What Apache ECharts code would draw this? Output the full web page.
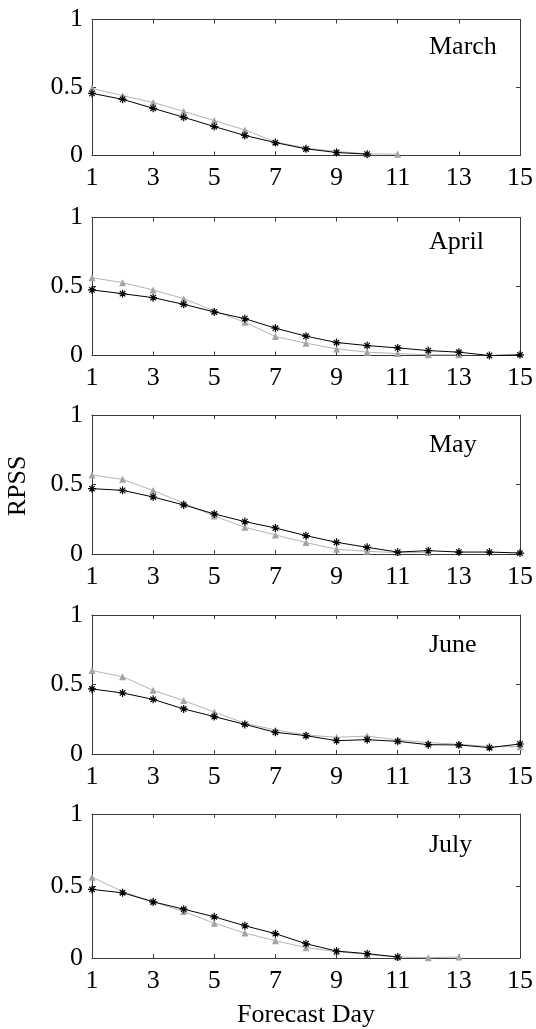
<!DOCTYPE html>
<html>
<head>
<meta charset="utf-8">
<script src="https://cdn.jsdelivr.net/npm/echarts@6/dist/echarts.min.js"></script>
<style>
html,body{margin:0;padding:0;background:#fff;}
#chart{width:536px;height:1029px;}
</style>
</head>
<body>
<div id="chart"></div>
<script>
// ---- data ----
const days = ['1','2','3','4','5','6','7','8','9','10','11','12','13','14','15'];
const months = ['March','April','May','June','July'];
const yTicks = [0, 0.5, 1];

const marchStar = [0.457,0.413,0.347,0.281,0.213,0.147,0.095,0.049,0.022,0.010,null,null,null,null,null];
const marchTri  = [0.494,0.440,0.390,0.325,0.257,0.188,0.100,0.054,0.030,0.012,0.010,null,null,null,null];

const aprilStar = [0.475,0.448,0.419,0.371,0.316,0.267,0.198,0.140,0.094,0.072,0.055,0.036,0.024,0.000,0.005];
const aprilTri  = [0.564,0.528,0.475,0.412,0.323,0.241,0.137,0.089,0.048,0.024,0.014,0.005,0.005,null,null];

const mayStar = [0.470,0.458,0.410,0.353,0.288,0.233,0.187,0.132,0.084,0.048,0.014,0.024,0.014,0.014,0.007];
const mayTri  = [0.568,0.537,0.456,0.367,0.273,0.192,0.137,0.082,0.034,0.019,0.010,0.010,null,null,null];

const juneStar = [0.468,0.439,0.393,0.324,0.269,0.213,0.156,0.132,0.096,0.103,0.091,0.067,0.065,0.046,0.072];
const juneTri  = [0.600,0.556,0.458,0.384,0.302,0.221,0.173,0.137,0.120,0.129,0.101,0.082,0.070,0.053,0.053];

const julyStar = [0.476,0.453,0.390,0.339,0.286,0.224,0.169,0.099,0.048,0.030,0.007,null,null,null,null];
const julyTri  = [0.561,0.462,0.390,0.323,0.242,0.173,0.120,0.072,0.044,0.025,0.007,0.002,0.007,null,null];

const starSeries = [marchStar, aprilStar, mayStar, juneStar, julyStar];
const triSeries  = [marchTri, aprilTri, mayTri, juneTri, julyTri];

// ---- layout ----
const gridTops    = [19.5, 217.5, 415, 615, 814];
const gridHeights = [136, 138, 139, 139, 144];
const labelTops   = [34, 229, 432, 632, 832];
const FONT = "'Liberation Serif','Times New Roman',serif";
const FS = 26;
const frameColor = '#3a3a3a';
const asterisk = 'path://M5,0 L5,10 M0,5 L10,5 M1.6,1.6 L8.4,8.4 M1.6,8.4 L8.4,1.6';

const grid = [], xAxis = [], yAxis = [], series = [], title = [];
months.forEach((m, i) => {
  grid.push({left: 92, width: 430, top: gridTops[i], height: gridHeights[i], show: false});
  const xBase = {
    gridIndex: i, type: 'category', data: days, boundaryGap: false,
    axisLine: {onZero: false, lineStyle: {color: frameColor, width: 1}},
    axisTick: {inside: true, length: 4, interval: 1, lineStyle: {color: frameColor}},
    splitLine: {show: false}
  };
  xAxis.push(Object.assign({}, xBase, {position: 'bottom',
    axisLabel: {interval: 1, margin: 10, color: '#000', fontFamily: FONT, fontSize: FS}}));
  xAxis.push(Object.assign({}, xBase, {position: 'top', axisLabel: {show: false}}));
  const yBase = {
    gridIndex: i, type: 'value', min: yTicks[0], max: yTicks[2], interval: yTicks[1],
    axisLine: {show: true, onZero: false, lineStyle: {color: frameColor, width: 1}},
    axisTick: {show: true, inside: true, length: 4, lineStyle: {color: frameColor}},
    splitLine: {show: false}
  };
  yAxis.push(Object.assign({}, yBase, {position: 'left',
    axisLabel: {margin: 9, color: '#000', fontFamily: FONT, fontSize: FS}}));
  yAxis.push(Object.assign({}, yBase, {position: 'right', axisLabel: {show: false}}));

  series.push({
    type: 'line', xAxisIndex: 2*i, yAxisIndex: 2*i, data: triSeries[i],
    symbol: 'triangle', symbolSize: 7, showAllSymbol: true, clip: false,
    itemStyle: {color: '#a4a4a4'}, lineStyle: {color: '#b4b4b4', width: 1},
    animation: false, z: 2
  });
  series.push({
    type: 'line', xAxisIndex: 2*i, yAxisIndex: 2*i, data: starSeries[i],
    symbol: asterisk, symbolSize: 8, showAllSymbol: true, clip: false,
    itemStyle: {color: '#000', borderColor: '#000', borderWidth: 1.2},
    lineStyle: {color: '#000', width: 1},
    animation: false, z: 3
  });
  title.push({
    text: m, left: 429, top: labelTops[i], padding: 0,
    textStyle: {fontFamily: FONT, fontSize: FS, fontWeight: 'normal', color: '#000'}
  });
});

const chart = echarts.init(document.getElementById('chart'), null, {renderer: 'canvas'});
chart.setOption({
  animation: false,
  backgroundColor: '#fff',
  title, grid, xAxis, yAxis, series,
  graphic: [
    {type: 'text', x: 18, y: 486, rotation: Math.PI/2,
     style: {text: 'RPSS', font: `${FS}px ${FONT}`, fill: '#000', textAlign: 'center', textVerticalAlign: 'middle'}},
    {type: 'text', x: 306, y: 1015,
     style: {text: 'Forecast Day', font: `${FS}px ${FONT}`, fill: '#000', textAlign: 'center', textVerticalAlign: 'middle'}}
  ]
});
</script>
</body>
</html>
